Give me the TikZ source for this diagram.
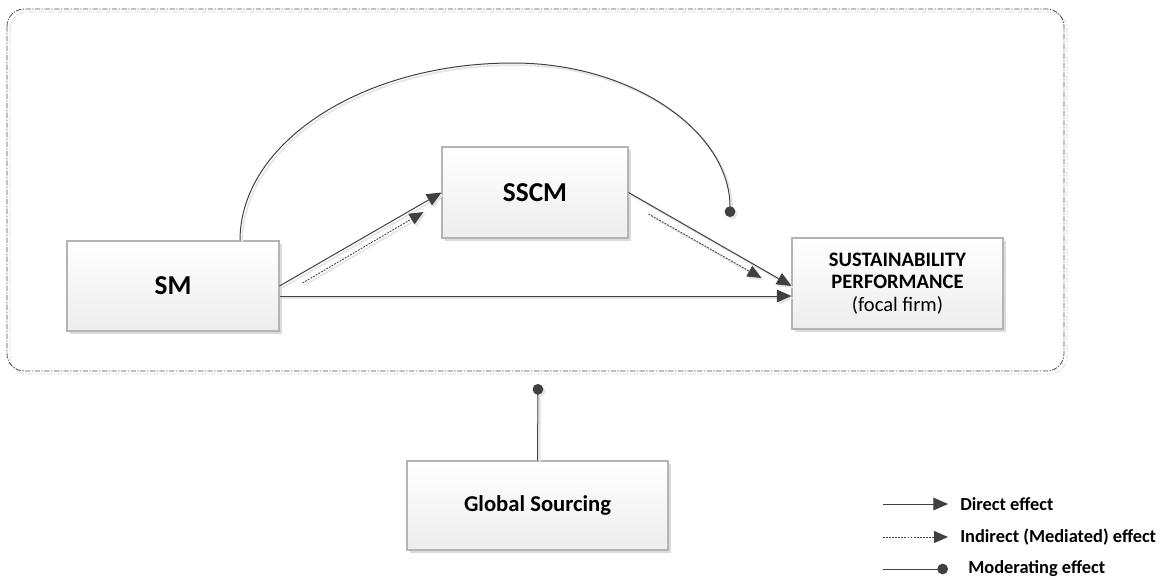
\documentclass[tikz,border=0pt]{standalone}
\usepackage{fontspec}
\setmainfont{Carlito}
\usetikzlibrary{arrows.meta,calc,shadows}

\definecolor{linegray}{HTML}{404040}
\definecolor{boxborder}{HTML}{B4B4B4}
\definecolor{boxbottom}{HTML}{EDEDED}

\tikzset{
  box/.style={draw=boxborder, line width=0.8pt, rectangle,
    top color=white, bottom color=boxbottom, align=center,
    drop shadow={shadow xshift=2.6pt, shadow yshift=-2.6pt, fill=black!14, opacity=1}},
  lshadow/.style={preaction={draw=black!10, line width=1.3pt,
    transform canvas={shift={(1.6pt,-1.6pt)}}}},
  effect/.style={draw=linegray, line width=0.75pt,
    -{Triangle[length=11pt, width=9.5pt]}},
  mediated/.style={draw=linegray, line width=0.65pt,
    dash pattern=on 1.4pt off 0.9pt,
    -{Triangle[length=10.5pt, width=9pt]}},
  moderate/.style={draw=linegray, line width=0.75pt,
    -{Circle[length=8pt]}},
  frame/.style={draw=black!70, line width=0.6pt, rounded corners=13pt,
    dash pattern=on 4pt off 1.1pt on 1pt off 1.1pt},
  legendtext/.style={anchor=west, font=\bfseries\fontsize{13.8}{15}\selectfont, inner sep=0pt}
}

\begin{document}
\begin{tikzpicture}[x=0.75pt, y=-0.75pt]
  \useasboundingbox (0,0) rectangle (1167,579);

  % dash-dot frame around the core model
  \draw[black!10, line width=0.9pt, rounded corners=13pt,
        dash pattern=on 4pt off 1.1pt on 1pt off 1.1pt] (10,12) rectangle (1067,374);
  \draw[frame] (7,9) rectangle (1064,371);

  % constructs
  \node[box, minimum width=159pt, minimum height=67.5pt,
        font=\bfseries\fontsize{20.5}{24}\selectfont] (SM) at (173,286) {SM};
  \node[box, minimum width=139.5pt, minimum height=68.25pt,
        font=\bfseries\fontsize{20.5}{24}\selectfont] (SSCM) at (535,192.5) {SSCM};
  \node[box, minimum width=158.25pt, minimum height=68.25pt,
        font=\fontsize{15.4}{17}\selectfont] (SP) at (897.5,283.5)
        {\textbf{SUSTAINABILITY}\\\textbf{PERFORMANCE}\\(focal firm)};
  \node[box, minimum width=195.75pt, minimum height=66.75pt,
        font=\bfseries\fontsize{17}{20}\selectfont] (GS) at (537.5,505.5) {Global Sourcing};

  % end points of the parallel mediated paths and the moderating dots
  \coordinate (m1a) at ($(SM.east)+(23,-3)$);
  \coordinate (m1b) at ($(SSCM.west)+(-18,19.5)$);
  \coordinate (m2a) at ($(SSCM.east)+(20,21.5)$);
  \coordinate (m2b) at ($(SP.west)+(-30,-5.5)$);
  \coordinate (arcstart) at ($(SM.north)+(67,0)$);
  \coordinate (arcdot) at (730,217);
  \coordinate (gsdot) at (538,384);

  % direct effects
  \draw[effect, lshadow] (SM.east) -- (SSCM.west);
  \draw[effect, lshadow] (SSCM.east) -- ($(SP.west)+(0,2.5)$);
  \draw[effect, lshadow] ($(SM.east)+(0,10)$) -- ($(SP.west)+(0,12.5)$);

  % indirect (mediated) effects
  \draw[mediated, lshadow] (m1a) -- (m1b);
  \draw[mediated, lshadow] (m2a) -- (m2b);

  % moderating effects
  \draw[moderate, lshadow] (arcstart)
     .. controls (240,142.7) and (362.2,63) .. (513,63)
     .. controls (632.9,63) and (730,132) .. (arcdot);
  \draw[moderate, lshadow] (GS.north) -- (gsdot);

  % legend
  \coordinate (l1a) at (883,504);  \coordinate (l1b) at (948,504);
  \coordinate (l2a) at (883,537);  \coordinate (l2b) at (948,537);
  \coordinate (l3a) at (883,569);  \coordinate (l3b) at (948,569);
  \draw[effect] (l1a) -- (l1b);
  \draw[mediated] (l2a) -- (l2b);
  \draw[moderate] (l3a) -- (l3b);
  \node[legendtext] (t1) at (960,504) {Direct effect};
  \node[legendtext] (t2) at (960,537) {Indirect (Mediated) effect};
  \node[legendtext] (t3) at (968,569) {Moderating effect};
\end{tikzpicture}
\end{document}
